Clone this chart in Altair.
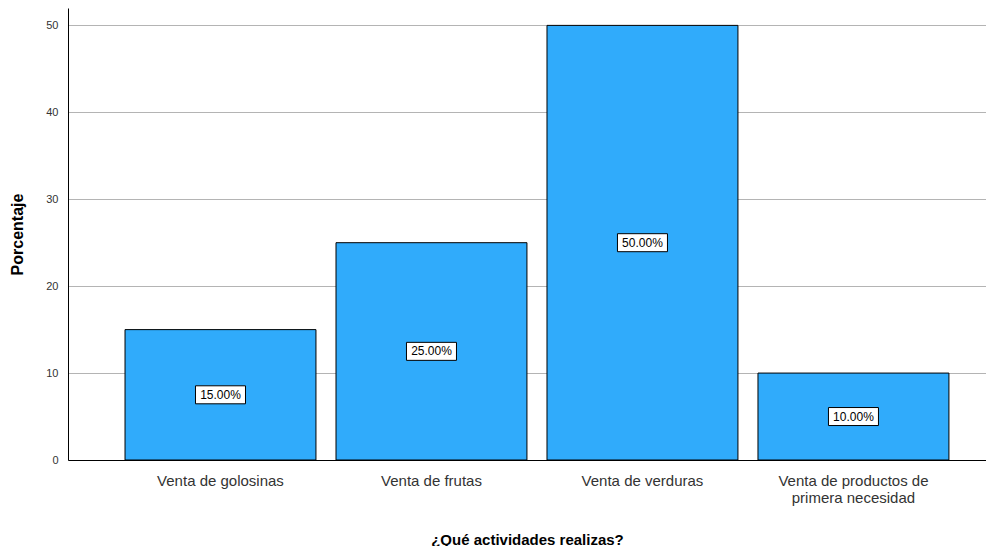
import altair as alt
import pandas as pd

categories = ["Venta de golosinas", "Venta de frutas", "Venta de verduras",
              "Venta de productos de primera necesidad"]
values = [15.0, 25.0, 50.0, 10.0]
labels = ["15.00%", "25.00%", "50.00%", "10.00%"]

df = pd.DataFrame({"cat": categories, "val": values, "lab": labels})
df["mid"] = df["val"] / 2

x = alt.X("cat:N", sort=categories, title="¿Qué actividades realizas?",
          scale=alt.Scale(paddingInner=0.095, paddingOuter=0.223, align=0.606),
          axis=alt.Axis(labelAngle=0, labelFontSize=15, labelColor="#333333",
                        labelFont="Liberation Sans", titleFont="Liberation Sans",
                        titleFontSize=15, titleFontWeight="bold", titleColor="#000000",
                        titlePadding=27, labelPadding=13, ticks=False,
                        domainColor="#000000", labelLimit=300, labelLineHeight=17,
                        labelExpr="datum.value == 'Venta de productos de primera necesidad' ? ['Venta de productos de', 'primera necesidad'] : datum.value"))

bars = alt.Chart(df).mark_bar(color="#30ABFB", stroke="#000000", strokeWidth=1).encode(
    x=x,
    y=alt.Y("val:Q", title="Porcentaje",
            scale=alt.Scale(domain=[0, 52], nice=False),
            axis=alt.Axis(values=[0, 10, 20, 30, 40, 50], labelFontSize=11,
                          labelColor="#333333", labelFont="Liberation Sans",
                          titleFont="Liberation Sans", titleFontSize=16,
                          titleFontWeight="bold", titleColor="#000000",
                          titlePadding=20, ticks=False, labelPadding=10,
                          gridColor="#b4b4b4", domainColor="#000000")),
)

boxes = alt.Chart(df).mark_point(
    shape="M-1,-0.36L1,-0.36L1,0.36L-1,0.36Z", filled=True, fill="#ffffff",
    stroke="#000000", strokeWidth=1, size=2500, opacity=1
).encode(x=alt.X("cat:N", sort=categories), y=alt.Y("mid:Q"))

texts = alt.Chart(df).mark_text(font="Liberation Sans", fontSize=12, color="#000000").encode(
    x=alt.X("cat:N", sort=categories), y=alt.Y("mid:Q"), text="lab:N")

chart = alt.layer(bars, boxes, texts).properties(
    width=918, height=452,
    autosize=alt.AutoSizeParams(type="none"),
    padding={"left": 60, "top": 0, "right": 0, "bottom": 86},
).configure_view(stroke=None).configure_axisY(domain=True).configure_axisX(grid=False)

chart.save("out.html", embed_options={"renderer": "svg", "actions": False})
